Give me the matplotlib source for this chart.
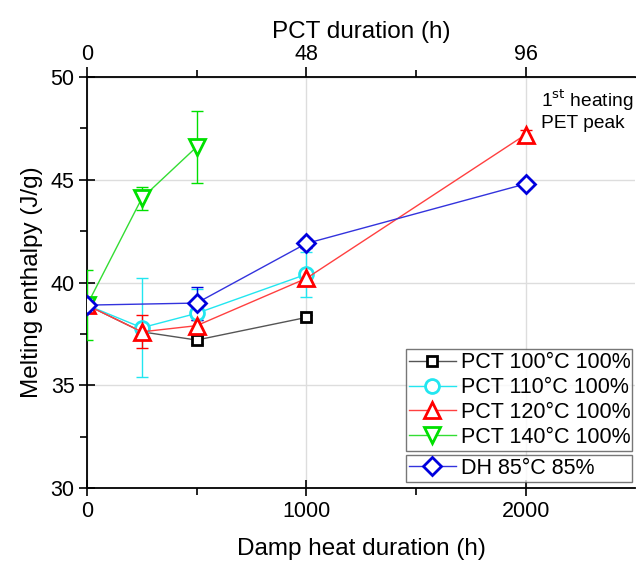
import matplotlib.pyplot as plt
import numpy as np

plt.rcParams['font.family'] = ['Liberation Sans', 'DejaVu Sans']

# damp heat hours axis; PCT points sit at 48 h PCT == 1000 h DH
pct_x = [0, 250, 500, 1000]
pct120_x = [0, 250, 500, 1000, 2000]
pct140_x = [0, 250, 500]
dh_x = [0, 500, 1000, 2000]

pct100 = [38.9, 37.6, 37.2, 38.3]
pct100_err = [0.1, 0.2, 0.2, 0.1]
pct110 = [38.9, 37.8, 38.5, 40.4]
pct110_err = [0.1, 2.4, 1.2, 1.1]
pct120 = [38.9, 37.6, 37.9, 40.2, 47.2]
pct120_err = [0.1, 0.8, 0.3, 0.2, 0.2]
pct140 = [38.9, 44.1, 46.6]
pct140_err = [1.7, 0.55, 1.75]
dh = [38.9, 39.0, 41.9, 44.8]
dh_err = [0.1, 0.8, 0.2, 0.2]

fig = plt.figure(figsize=(6.36, 5.63), dpi=100)
ax = fig.add_axes([0.1368, 0.1332, 0.862, 0.73])

series = [
    (pct_x, pct100, pct100_err, 's', '#000000', '#555555', 7, 'PCT 100°C 100%'),
    (pct_x, pct110, pct110_err, 'o', '#22e6f0', '#22e6f0', 10, 'PCT 110°C 100%'),
    (pct120_x, pct120, pct120_err, '^', '#ff0000', '#ff4040', 11, 'PCT 120°C 100%'),
    (pct140_x, pct140, pct140_err, 'v', '#00e000', '#33dd33', 11, 'PCT 140°C 100%'),
    (dh_x, dh, dh_err, 'D', '#0000dd', '#3333dd', 9, 'DH 85°C 85%'),
]
handles = []
for x, y, e, m, c, lc, ms, lab in series:
    ax.errorbar(x, y, yerr=e, fmt='none', ecolor=c, elinewidth=1, capsize=4, capthick=1, zorder=3)
    h, = ax.plot(x, y, color=lc, lw=1, marker=m, ms=ms, mfc='white', mec=c, mew=2, label=lab, zorder=4)
    handles.append(h)

ax.set_xlim(0, 2500)
ax.set_ylim(30, 50)
ax.set_xticks([0, 1000, 2000])
ax.set_xticks([500, 1500], minor=True)
ax.set_yticks([30, 35, 40, 45, 50])
ax.set_yticks([32.5, 37.5, 42.5, 47.5], minor=True)
ax.grid(True, which='major', color='#dddddd', lw=1)
ax.set_axisbelow(True)
ax.spines['right'].set_visible(False)
for s in ['left', 'bottom', 'top']:
    ax.spines[s].set_linewidth(1.3)
ax.tick_params(which='major', direction='inout', length=12, width=1.2, labelsize=15.5, pad=3)
ax.tick_params(which='minor', direction='out', length=5, width=1.2)
ax.set_xlabel('Damp heat duration (h)', fontsize=17.5, labelpad=12)
ax.set_ylabel('Melting enthalpy (J/g)', fontsize=17.5, labelpad=5)

top = ax.secondary_xaxis('top', functions=(lambda v: v * 48 / 1000, lambda v: v * 1000 / 48))
top.set_xticks([0, 48, 96])
top.set_xticks([24, 72], minor=True)
top.tick_params(which='major', direction='out', length=7, width=1.2, labelsize=15.5, pad=2)
top.tick_params(which='minor', direction='out', length=5, width=1.2)
top.set_xlabel('PCT duration (h)', fontsize=17.5, labelpad=4)

ax.text(0.829, 0.975, '1$^{\\mathrm{st}}$ heating\nPET peak', transform=ax.transAxes,
        fontsize=13.8, va='top', ha='left', linespacing=1.15)

leg_kw = dict(fontsize=15.5, frameon=True, fancybox=False, edgecolor='#555555',
              handlelength=2.2, handletextpad=0.25, borderpad=0.15, labelspacing=0.18,
              borderaxespad=0.0, mode='expand', loc='lower left')
leg1 = ax.legend(handles=handles[:4], bbox_to_anchor=(0.581, 0.090, 0.414, 0.258), **leg_kw)
leg1.get_frame().set_linewidth(1)
ax.add_artist(leg1)
leg2 = ax.legend(handles=handles[4:], bbox_to_anchor=(0.581, 0.0146, 0.414, 0.063), **leg_kw)
leg2.get_frame().set_linewidth(1)

fig.savefig('out.png', dpi=100)
